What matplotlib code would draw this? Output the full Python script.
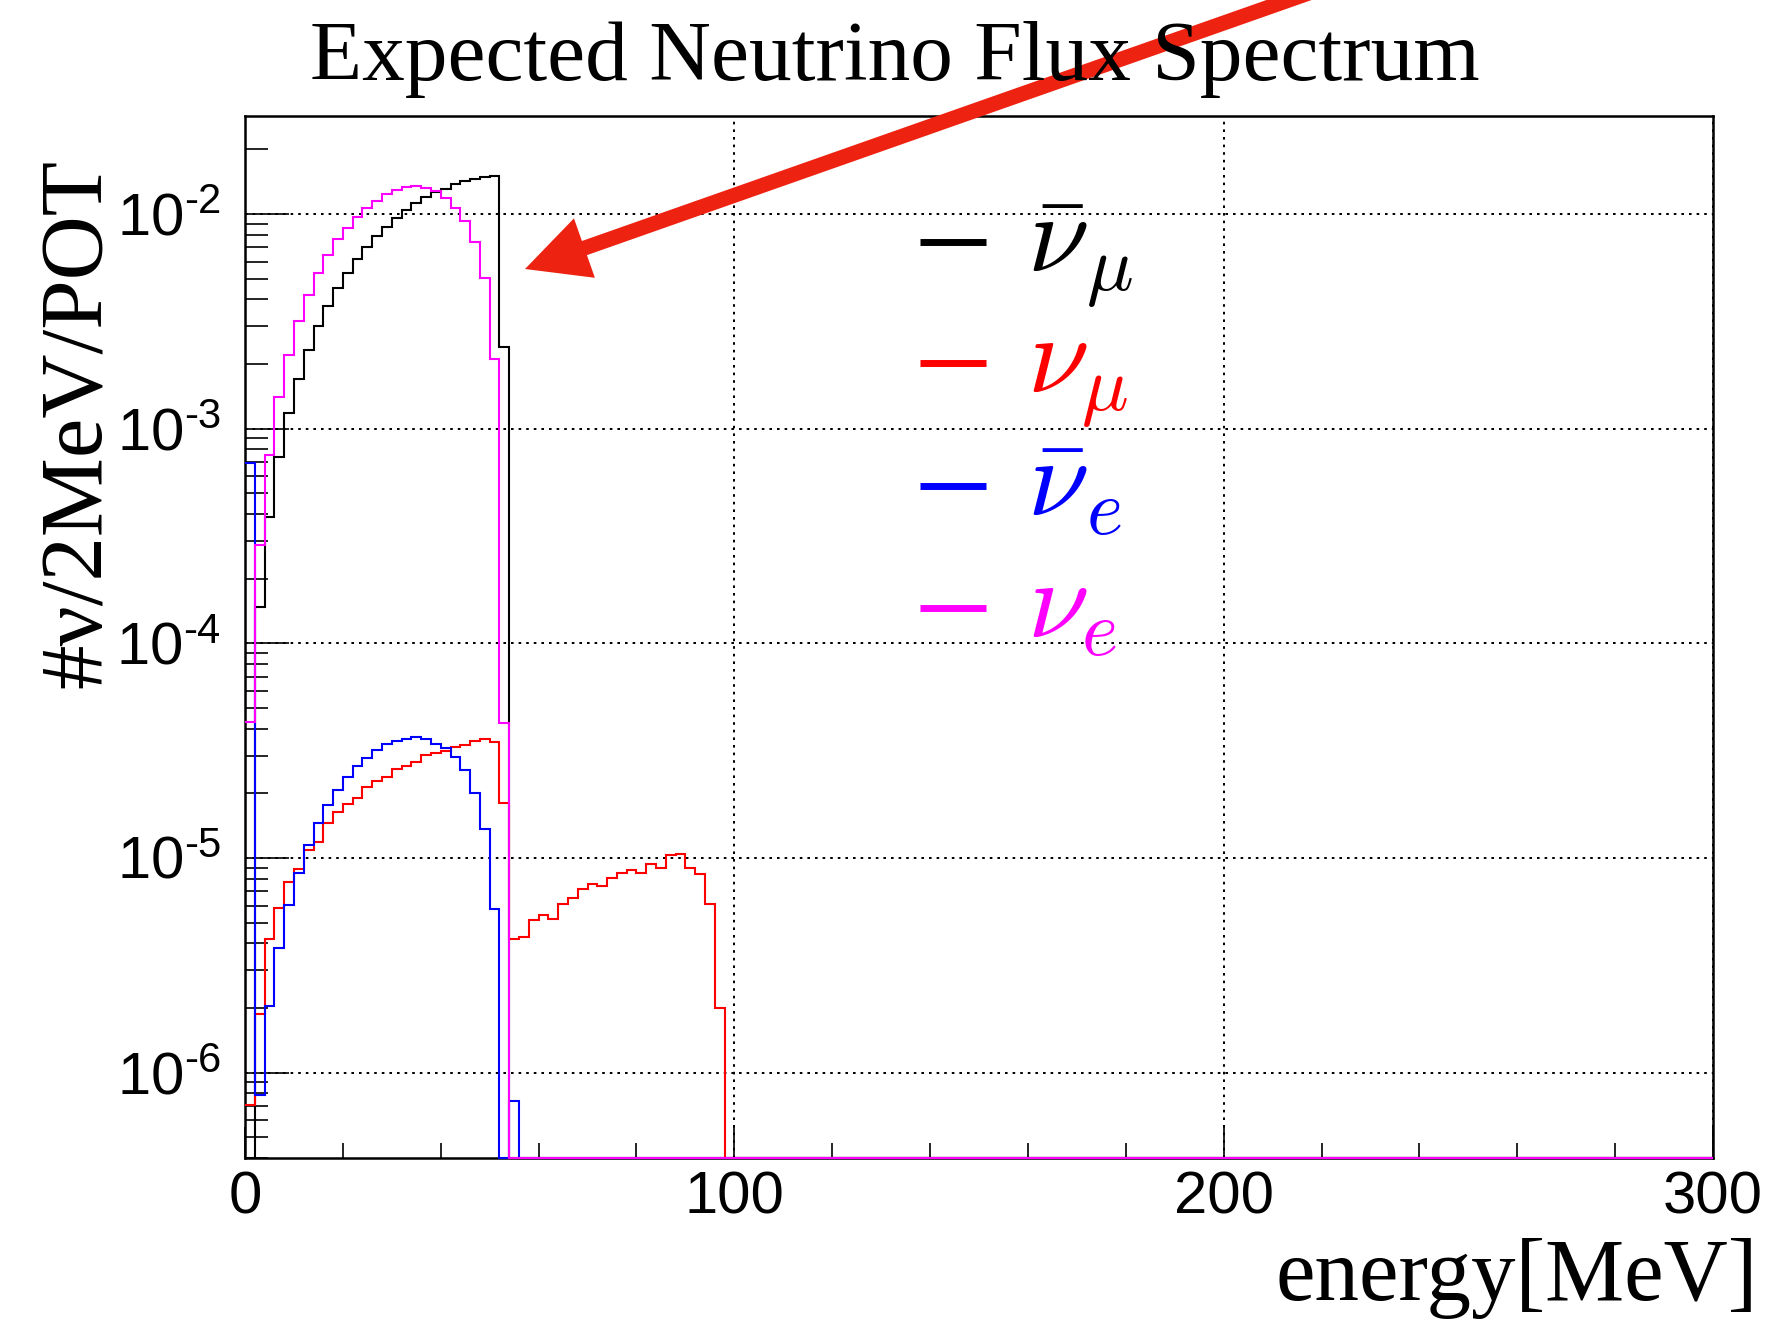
import numpy as np
import matplotlib
matplotlib.use("Agg")
import matplotlib.pyplot as plt
from matplotlib.patches import FancyArrow
from matplotlib.transforms import IdentityTransform
from matplotlib.ticker import FixedLocator, FixedFormatter, LogLocator, NullFormatter

# bin edges in MeV (2 MeV bins, 0-300)
edges = np.arange(0, 302, 2)

# flux values per 2 MeV bin (bins after the list are empty)
numubar = [0, 1.47e-4, 3.86e-4, 7.35e-4, 1.18e-3, 1.71e-3, 2.32e-3, 3.02e-3, 3.74e-3,
           4.54e-3, 5.30e-3, 6.17e-3, 7.0e-3, 7.9e-3, 8.73e-3, 9.6e-3, 1.04e-2, 1.13e-2,
           1.20e-2, 1.26e-2, 1.31e-2, 1.38e-2, 1.43e-2, 1.46e-2, 1.48e-2, 1.51e-2, 2.39e-3]
numu = [7.03e-7, 1.88e-6, 4.19e-6, 5.86e-6, 7.69e-6, 8.88e-6, 1.09e-5, 1.18e-5, 1.46e-5,
        1.64e-5, 1.78e-5, 1.91e-5, 2.15e-5, 2.29e-5, 2.39e-5, 2.59e-5, 2.68e-5, 2.80e-5,
        3.02e-5, 3.09e-5, 3.16e-5, 3.30e-5, 3.36e-5, 3.49e-5, 3.60e-5, 3.47e-5, 1.81e-5,
        4.2e-6, 4.29e-6, 5.13e-6, 5.41e-6, 5.22e-6, 6.07e-6, 6.52e-6, 7.13e-6, 7.55e-6,
        7.39e-6, 8.02e-6, 8.52e-6, 8.83e-6, 8.52e-6, 9.32e-6, 8.93e-6, 1.03e-5, 1.04e-5,
        9.02e-6, 8.40e-6, 6.07e-6, 2.0e-6]
nuebar = [6.9e-4, 7.9e-7, 2.04e-6, 3.81e-6, 6.02e-6, 8.53e-6, 1.15e-5, 1.45e-5, 1.76e-5,
          2.07e-5, 2.38e-5, 2.68e-5, 2.93e-5, 3.18e-5, 3.38e-5, 3.51e-5, 3.60e-5, 3.64e-5,
          3.57e-5, 3.41e-5, 3.26e-5, 2.94e-5, 2.56e-5, 2.0e-5, 1.36e-5, 5.81e-6, 0, 7.4e-7]
nue = [4.3e-5, 2.87e-4, 7.53e-4, 1.40e-3, 2.20e-3, 3.17e-3, 4.2e-3, 5.3e-3, 6.42e-3,
       7.62e-3, 8.64e-3, 9.72e-3, 1.07e-2, 1.15e-2, 1.24e-2, 1.29e-2, 1.34e-2, 1.35e-2,
       1.32e-2, 1.28e-2, 1.19e-2, 1.07e-2, 9.27e-3, 7.43e-3, 5.01e-3, 2.12e-3, 4.26e-5]

series = [numubar, numu, nuebar, nue]
colors = ["black", "#ff0000", "#0000ff", "#ff00ff"]
labels = [r"$\bar{\nu}_{\mu}$", r"$\nu_{\mu}$", r"$\bar{\nu}_{e}$", r"$\nu_{e}$"]
yticks = [1e-6, 1e-5, 1e-4, 1e-3, 1e-2]
ytick_labels = ["$\\mathregular{10^{\u2010" + str(k) + "}}$" for k in [6, 5, 4, 3, 2]]

ymin, ymax = 4.0e-7, 2.86e-2

plt.rcParams["font.family"] = ["Liberation Sans", "DejaVu Sans"]

W, H = 1781, 1321
fig = plt.figure(figsize=(W / 100, H / 100), dpi=100)
ax = fig.add_axes([245 / W, (H - 1158) / H, 1468 / W, 1042 / H])

# histograms, empty bins sit on the bottom of the frame like ROOT does
for vals, c in zip(series, colors):
    v = np.zeros(len(edges) - 1)
    v[:len(vals)] = vals
    v = np.where(v > 0, v, ymin)
    ax.stairs(v, edges, baseline=None, color=c, lw=1.5, clip_on=False, zorder=3)

ax.set_yscale("log")
ax.set_xlim(0, 300)
ax.set_ylim(ymin, ymax)

ax.yaxis.set_major_locator(FixedLocator(yticks))
ax.yaxis.set_major_formatter(FixedFormatter(ytick_labels))
ax.yaxis.set_minor_locator(LogLocator(base=10, subs=np.arange(2, 10), numticks=20))
ax.yaxis.set_minor_formatter(NullFormatter())
ax.set_xticks([0, 100, 200, 300])
ax.set_xticks(np.arange(0, 301, 20), minor=True)

ax.tick_params(axis="y", which="major", direction="in", length=32, width=1.2, labelsize=43, pad=17)
ax.tick_params(axis="y", which="minor", direction="in", length=16.5, width=1.2)
ax.tick_params(axis="x", which="major", direction="in", length=22, width=1.2, labelsize=43, pad=9)
ax.tick_params(axis="x", which="minor", direction="in", length=11, width=1.2)
for s in ax.spines.values():
    s.set_linewidth(1.8)

ax.grid(True, which="major", color="black", ls=(0, (1.3, 2.5)), lw=1.44)
ax.set_axisbelow(True)

# legend drawn by hand so the rows sit where they do in the original
leg_y = [0.879, 0.763, 0.645, 0.528]
for yy, c, lab in zip(leg_y, colors, labels):
    ax.plot([0.460, 0.505], [yy, yy], color=c, lw=5, transform=ax.transAxes, solid_capstyle="butt")
    ax.text(0.533, yy - 0.029, lab, color=c, fontsize=80, math_fontfamily="cm",
            transform=ax.transAxes, ha="left", va="baseline")

serif = ["Liberation Serif", "DejaVu Serif"]
fig.text(895 / W, 1 - 59 / H, "Expected Neutrino Flux Spectrum", family=serif, fontsize=61.5,
         ha="center", va="center")
fig.text(79 / W, 1 - 423 / H, "#ν/2MeV/POT", family=serif, fontsize=64, rotation=90,
         ha="center", va="center")
fig.text(1758 / W, 1 - 1300 / H, "energy[MeV]", family=serif, fontsize=64,
         ha="right", va="baseline")

# red arrow pointing at the spectrum end-point
tip = (525, H - 269)
start = (1326, H + 13)
fig.add_artist(FancyArrow(start[0], start[1], tip[0] - start[0], tip[1] - start[1],
                          width=15, head_width=63, head_length=63, length_includes_head=True,
                          color="#ee2211", lw=0, transform=IdentityTransform()))

fig.savefig("out.png", dpi=100)
